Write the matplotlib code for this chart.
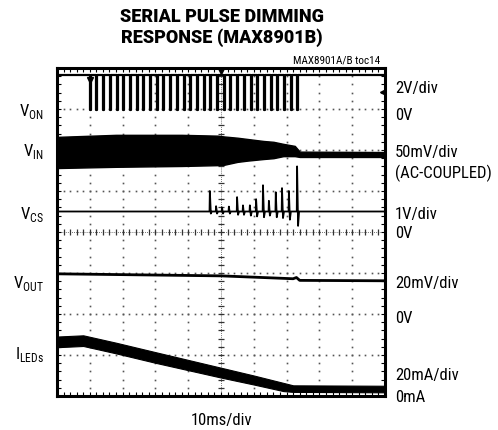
import numpy as np
import matplotlib
matplotlib.use('Agg')
import matplotlib.pyplot as plt
from matplotlib import font_manager as fm

# ---- scope traces, all in divisions (10 x 8 screen) ----
# V_ON : high level, low level and the falling edge of each pulse
von_high = 7.83
von_low = 6.97
von_pulse_t = [1.00, 1.20, 1.41, 1.61, 1.82, 2.02, 2.22, 2.43, 2.63, 2.84,
               3.04, 3.24, 3.45, 3.65, 3.86, 4.06, 4.26, 4.47, 4.67, 4.88,
               5.08, 5.28, 5.49, 5.69, 5.90, 6.10, 6.30, 6.51, 6.71, 6.92,
               7.12, 7.32]

# V_IN : envelope of the ripple band
vin_t = [0.0, 1.8, 3.8, 4.9, 5.1, 5.5, 5.8, 6.3, 6.6, 6.9, 7.25, 7.4, 10.0]
vin_hi = [6.32, 6.37, 6.37, 6.35, 6.33, 6.30, 6.27, 6.22, 6.20, 6.15, 6.10, 5.96, 5.95]
vin_lo = [5.56, 5.59, 5.61, 5.63, 5.64, 5.71, 5.74, 5.78, 5.80, 5.85, 5.85, 5.83, 5.83]

# V_CS : baseline and spikes (time, peak up, dip down)
vcs_base = 4.50
vcs_t = [4.66, 4.85, 5.03, 5.24, 5.49, 5.67, 5.88, 6.07, 6.28, 6.46, 6.67, 6.86, 7.07, 7.32]
vcs_up = [0.50, 0.13, 0.10, 0.12, 0.35, 0.15, 0.15, 0.30, 0.64, 0.26, 0.47, 0.57, 0.50, 1.10]
vcs_dn = [-0.05, -0.05, -0.05, -0.05, -0.08, -0.08, -0.10, -0.12, -0.14, -0.10, -0.14, -0.16, -0.20, -0.35]

# V_OUT
vout_t = [0.0, 2.0, 5.0, 7.2, 7.3, 7.4, 10.0]
vout_y = [2.98, 2.96, 2.93, 2.86, 2.89, 2.82, 2.81]

# I_LEDs : band centre and half thickness
ileds_t = [0.0, 0.8, 1.8, 3.0, 5.0, 6.0, 6.9, 7.2, 10.0]
ileds_mid = [1.32, 1.35, 1.17, 0.94, 0.57, 0.39, 0.22, 0.18, 0.17]
ileds_half = [0.13, 0.13, 0.13, 0.13, 0.12, 0.11, 0.10, 0.08, 0.08]

left_labels = [('V$_\\mathregular{ON}$', 116), ('V$_\\mathregular{IN}$', 156),
               ('V$_\\mathregular{CS}$', 219), ('V$_\\mathregular{OUT}$', 288),
               ('I$_\\mathregular{LEDs}$', 359)]
right_labels = [('2V/div', 93), ('0V', 120), ('50mV/div', 157), ('(AC-COUPLED)', 178),
                ('1V/div', 219), ('0V', 238), ('20mV/div', 288), ('0V', 323),
                ('20mA/div', 380), ('0mA', 402)]
title_lines = ['SERIAL PULSE DIMMING', 'RESPONSE (MAX8901B)']

W, H = 498, 431
fig = plt.figure(figsize=(W / 100, H / 100), dpi=100)
renderer = fig.canvas.get_renderer()

# pick the installed sans face whose width best matches the datasheet's narrow Helvetica
FAMILIES = ('DejaVu Sans', 'Liberation Sans', 'Noto Sans', 'Roboto', 'Open Sans', 'Lato', 'Inter')
ALL_CHARS = 'SERIALPULSEDIMMINGRESPONSE(MAX8901B)/toc14(AC-COUPLED)VmdivI0123456789'


def weight_num(f):
    if isinstance(f.weight, int):
        return f.weight
    return {'bold': 700, 'heavy': 800, 'black': 900, 'extra bold': 800,
            'semibold': 600, 'demibold': 600}.get(f.weight, 400)


def family_ok(name):
    for fam in FAMILIES:
        if name == fam:
            return True
        if name.startswith(fam + ' ') and ('Condensed' in name or 'Narrow' in name):
            return True
    return False


def text_width(s, prop):
    t = fig.text(0, 0, s, fontproperties=prop)
    w = t.get_window_extent(renderer).width
    t.remove()
    return w


def best_font(bold, sample, size, target):
    best, best_err = None, None
    seen = set()
    for f in fm.fontManager.ttflist:
        if f.fname in seen or f.style != 'normal' or not family_ok(f.name):
            continue
        seen.add(f.fname)
        w = weight_num(f)
        if bold and w < 700:
            continue
        if not bold and w != 400:
            continue
        try:
            ft = fm.get_font(f.fname)
            if not all(ft.get_char_index(ord(c)) for c in ALL_CHARS):
                continue
            prop = fm.FontProperties(fname=f.fname, size=size)
            err = abs(text_width(sample, prop) - target)
        except Exception:
            continue
        if best_err is None or err < best_err:
            best, best_err = prop, err
    return best


fp = best_font(False, '(AC-COUPLED)', 12, 102) or fm.FontProperties(family='Liberation Sans', size=10)
fp_title = best_font(True, title_lines[0], 13, 205) or fm.FontProperties(family='Liberation Sans', weight='bold', size=11.5)
fp_small = fp.copy()
fp_small.set_size(8)

ax = fig.add_axes([57 / W, (H - 397) / H, 328 / W, 328 / H])
ax.set_xlim(0, 10)
ax.set_ylim(0, 8)

# graticule
ax.set_xticks(np.arange(0, 11, 1))
ax.set_yticks(np.arange(0, 9, 1))
ax.set_xticks(np.arange(0, 10.01, 0.2), minor=True)
ax.set_yticks(np.arange(0, 8.01, 0.2), minor=True)
ax.tick_params(which='both', direction='in', top=True, right=True, length=3,
               width=0.8, labelbottom=False, labelleft=False)
for s in ax.spines.values():
    s.set_linewidth(2.2)

dots_x = np.arange(0, 10.01, 0.2)
dots_y = np.arange(0, 8.01, 0.2)
for gx in range(1, 10):
    if gx != 5:
        ax.plot(np.full(len(dots_y), gx), dots_y, ls='none', marker='s', ms=1.2,
                mec='none', mfc='#555555', zorder=1)
for gy in range(1, 8):
    if gy != 4:
        ax.plot(dots_x, np.full(len(dots_x), gy), ls='none', marker='s', ms=1.2,
                mec='none', mfc='#555555', zorder=1)
# centre axes with tick marks
ax.plot(dots_x, np.full(len(dots_x), 4), color='#444444', lw=0.6, ls=(0, (1, 1.5)), zorder=1)
ax.plot(dots_x, np.full(len(dots_x), 4), ls='none', marker='|', ms=4, mew=0.9, color='#333333', zorder=1)
ax.plot(np.full(len(dots_y), 5), dots_y, color='#444444', lw=0.6, ls=(0, (1, 1.5)), zorder=1)
ax.plot(np.full(len(dots_y), 5), dots_y, ls='none', marker='_', ms=4, mew=0.9, color='#333333', zorder=1)

# V_ON
xs, ys = [0.0], [von_high]
for t in von_pulse_t:
    xs += [t, t, t + 0.03, t + 0.03]
    ys += [von_high, von_low, von_low, von_high]
xs.append(10.0)
ys.append(von_high)
ax.plot(xs, ys, color='k', lw=1.6, zorder=3)
ax.plot([von_pulse_t[0]], [von_high - 0.12], marker='v', ms=5, color='k', zorder=3)
ax.plot([5.0], [7.93], marker='v', ms=4, color='k', zorder=3)
ax.plot([9.93], [7.41], marker='<', ms=5, color='k', zorder=3)

# V_IN
ax.fill_between(vin_t, vin_lo, vin_hi, color='k', lw=1.0, zorder=3)

# V_CS
xs, ys = [0.0], [vcs_base]
for t, up, dn in zip(vcs_t, vcs_up, vcs_dn):
    xs += [t - 0.01, t, t + 0.03, t + 0.06]
    ys += [vcs_base, vcs_base + up, vcs_base + dn, vcs_base]
xs.append(10.0)
ys.append(vcs_base)
ax.plot(xs, ys, color='k', lw=1.3, zorder=3)

# V_OUT
ax.plot(vout_t, vout_y, color='k', lw=2.0, zorder=3)

# I_LEDs
mid = np.array(ileds_mid)
half = np.array(ileds_half)
ax.fill_between(ileds_t, mid - half, mid + half, color='k', lw=0.8, zorder=3)

# text
fig.text(222 / W, 1 - 22 / H, title_lines[0], ha='center', va='baseline', fontproperties=fp_title)
fig.text(222 / W, 1 - 43 / H, title_lines[1], ha='center', va='baseline', fontproperties=fp_title)
fig.text(380 / W, 1 - 64 / H, 'MAX8901A/B toc14', ha='right', va='baseline', fontproperties=fp_small)
for lab, yb in left_labels:
    fig.text(44 / W, 1 - yb / H, lab, ha='right', va='baseline', fontproperties=fp)
for lab, yb in right_labels:
    fig.text(395 / W, 1 - yb / H, lab, ha='left', va='baseline', fontproperties=fp)
fig.text(222 / W, 1 - 425 / H, '10ms/div', ha='center', va='baseline', fontproperties=fp)

fig.savefig('out.png', dpi=100)
